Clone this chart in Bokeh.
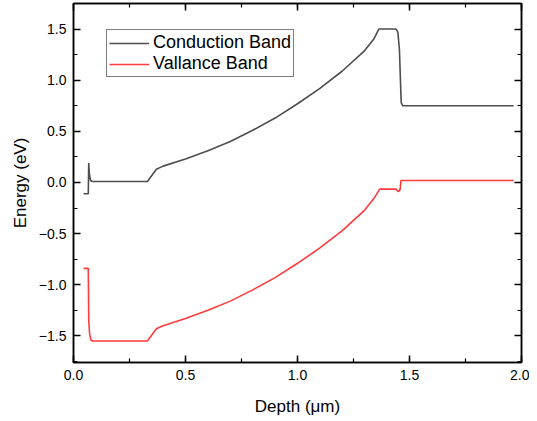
from bokeh.plotting import figure
from bokeh.models import (LinearAxis, Range1d, Legend, LegendItem, SingleIntervalTicker,
                          CustomJSTickFormatter)
from bokeh.embed import file_html
from bokeh.resources import INLINE

# Conduction band (depth in um, energy in eV)
cb_x = [0.045, 0.066, 0.068, 0.071, 0.076, 0.085, 0.33, 0.37, 0.40, 0.50, 0.60, 0.70, 0.80,
        0.90, 1.00, 1.10, 1.20, 1.30, 1.34, 1.363, 1.44, 1.448, 1.455, 1.463, 1.47, 1.965]
cb_y = [-0.11, -0.11, 0.19, 0.08, 0.02, 0.01, 0.01, 0.13, 0.16, 0.23, 0.31, 0.40, 0.51,
        0.63, 0.77, 0.92, 1.09, 1.29, 1.40, 1.50, 1.50, 1.47, 1.30, 0.78, 0.75, 0.75]

# Valence band
vb_x = [0.045, 0.066, 0.068, 0.072, 0.078, 0.085, 0.33, 0.37, 0.40, 0.50, 0.60, 0.70, 0.80,
        0.90, 1.00, 1.10, 1.20, 1.30, 1.34, 1.367, 1.44, 1.45, 1.458, 1.462, 1.47, 1.965]
vb_y = [-0.84, -0.84, -1.35, -1.48, -1.54, -1.55, -1.55, -1.43, -1.40, -1.33, -1.25, -1.16, -1.05,
        -0.93, -0.79, -0.64, -0.47, -0.27, -0.16, -0.065, -0.065, -0.09, -0.07, 0.02, 0.02, 0.02]

series_labels = ["Conduction Band", "Vallance Band"]
x_title = "Depth (\u03bcm)"
y_title = "Energy (eV)"

FONT = "Liberation Sans"

p = figure(frame_width=448, frame_height=359, output_backend="svg", toolbar_location=None,
           x_range=Range1d(0, 2.0), y_range=Range1d(-1.76, 1.75),
           min_border_left=73, min_border_right=8, min_border_top=3, min_border_bottom=0,
           x_axis_location=None, y_axis_location=None)
p.grid.visible = False
p.outline_line_color = "black"
p.outline_line_width = 1.5

fmt = CustomJSTickFormatter(code="""
var s = Math.abs(tick).toFixed(1);
return (tick < -1e-9 ? '\\u2212' : '') + s;
""")

def make_axis(show_labels, title=None, title_standoff=14):
    ax = LinearAxis(ticker=SingleIntervalTicker(interval=0.5, num_minor_ticks=2),
                    formatter=fmt)
    ax.major_tick_in = 7
    ax.major_tick_out = 0
    ax.minor_tick_in = 4
    ax.minor_tick_out = 0
    ax.axis_line_color = "black"
    ax.axis_line_width = 1.5
    ax.major_tick_line_width = 1.5
    ax.minor_tick_line_width = 1.2
    if show_labels:
        ax.major_label_text_font = FONT
        ax.major_label_text_font_size = "14px"
        ax.major_label_text_color = "black"
        ax.major_label_standoff = 7
        ax.axis_label = title
        ax.axis_label_text_font = FONT
        ax.axis_label_text_font_size = "17px"
        ax.axis_label_text_font_style = "normal"
        ax.axis_label_text_color = "black"
        ax.axis_label_standoff = title_standoff
    else:
        ax.major_label_text_font_size = "1px"
        ax.major_label_text_color = None
        ax.major_label_standoff = 0
    return ax

p.add_layout(make_axis(True, x_title, 14), "below")
p.add_layout(make_axis(True, y_title, 6), "left")
p.add_layout(make_axis(False), "above")
p.add_layout(make_axis(False), "right")

r1 = p.line(cb_x, cb_y, line_color="#4d4d4d", line_width=1.6)
r2 = p.line(vb_x, vb_y, line_color="#ff3b3b", line_width=1.6)

legend = Legend(items=[LegendItem(label=series_labels[0], renderers=[r1]),
                       LegendItem(label=series_labels[1], renderers=[r2])],
                location=(33, 285))
legend.label_text_font = FONT
legend.label_text_font_size = "18px"
legend.label_text_color = "black"
legend.border_line_color = "black"
legend.border_line_width = 1
legend.background_fill_color = "white"
legend.background_fill_alpha = 1
legend.padding = 2
legend.spacing = 0
legend.margin = 0
legend.glyph_width = 40
legend.glyph_height = 20
legend.label_height = 20
legend.label_standoff = 4
p.add_layout(legend)

open("out.html", "w").write(file_html(p, INLINE))
